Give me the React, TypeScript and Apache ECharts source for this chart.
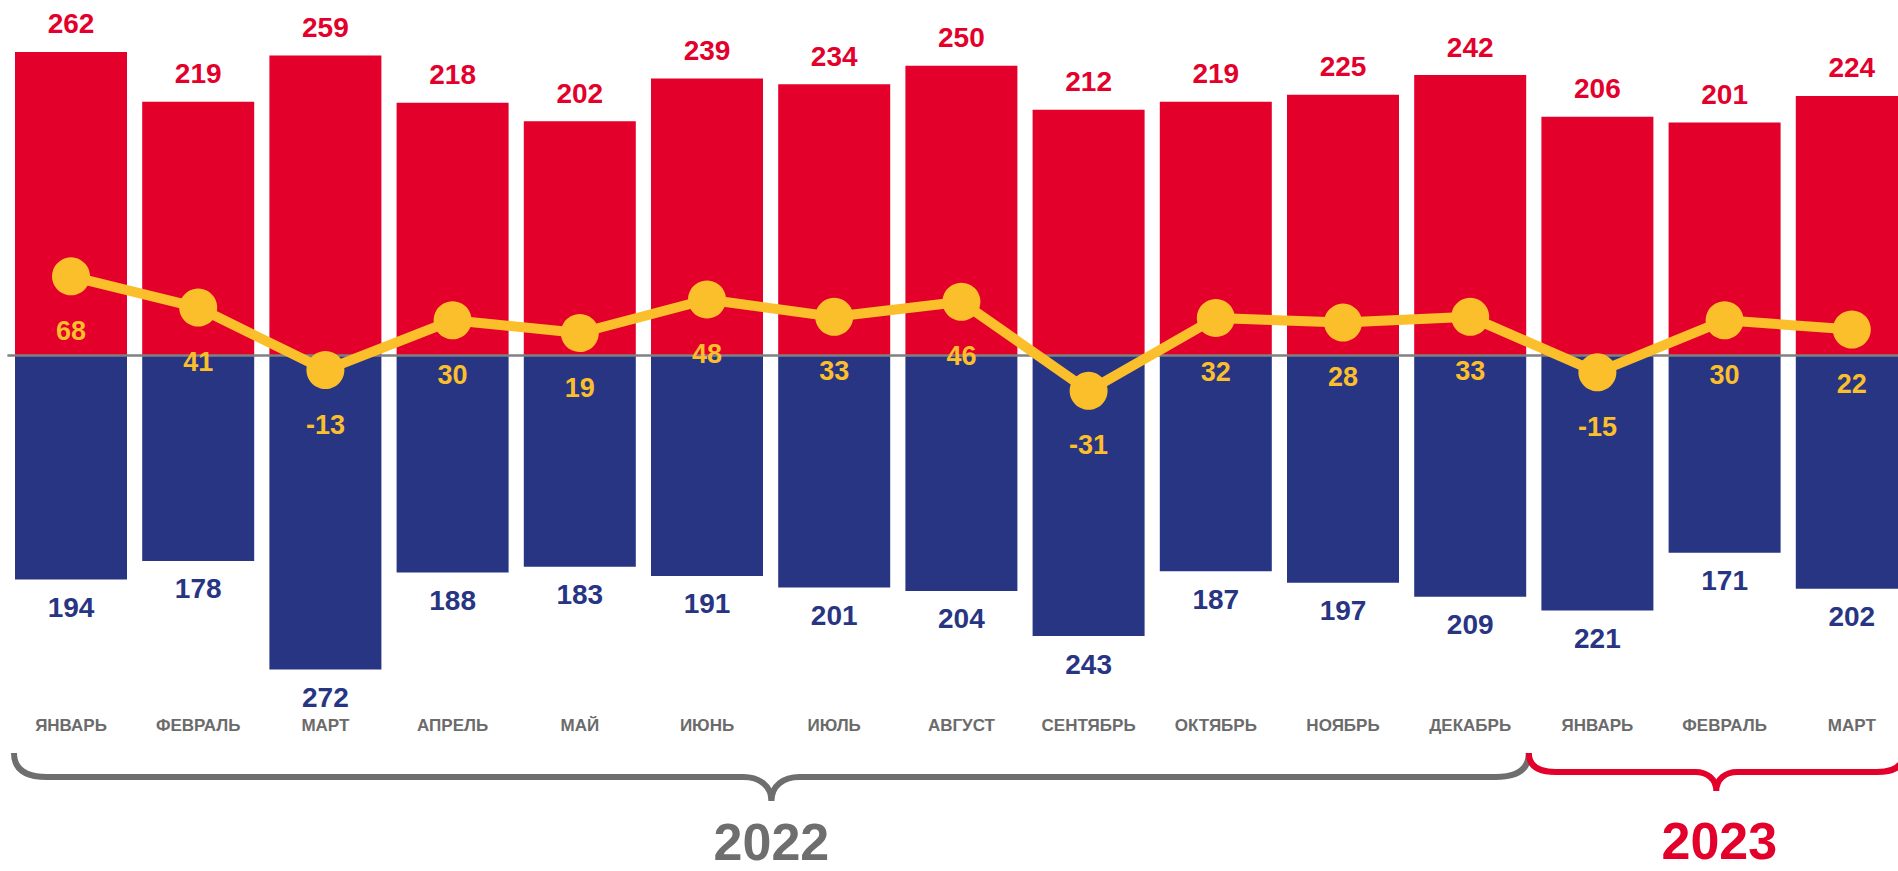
import React, { useEffect, useRef } from "react";
import * as echarts from "echarts";

const months = [
  "ЯНВАРЬ", "ФЕВРАЛЬ", "МАРТ", "АПРЕЛЬ", "МАЙ", "ИЮНЬ", "ИЮЛЬ", "АВГУСТ",
  "СЕНТЯБРЬ", "ОКТЯБРЬ", "НОЯБРЬ", "ДЕКАБРЬ", "ЯНВАРЬ", "ФЕВРАЛЬ", "МАРТ",
];
const inflow = [262, 219, 259, 218, 202, 239, 234, 250, 212, 219, 225, 242, 206, 201, 224];
const outflow = [194, 178, 272, 188, 183, 191, 201, 204, 243, 187, 197, 209, 221, 171, 202];
const balance = [68, 41, -13, 30, 19, 48, 33, 46, -31, 32, 28, 33, -15, 30, 22];
const years = ["2022", "2023"];
const yearStart = [0, 12];
const yearEnd = [11, 14];

const RED = "#E3002B";
const BLUE = "#283583";
const YELLOW = "#FCBF2C";
const GRAY = "#6B6B6B";
const FONT = "'Liberation Sans', Arial, sans-serif";

const W = 1898;
const H = 871;
const GRID_LEFT = 7.4;
const GRID_W = 1908;
const GRID_TOP = 8;
const GRID_H = 694;
const BAR_W = 112;

export default function App() {
  const ref = useRef<HTMLDivElement>(null);

  useEffect(() => {
    if (!ref.current) return;
    const chart = echarts.init(ref.current, undefined, { renderer: "svg" });
    const n = months.length;
    const catW = GRID_W / n;
    const cx = (i: number) => GRID_LEFT + catW * (i + 0.5);

    // brace geometry
    const gL = cx(yearStart[0]) - BAR_W / 2 - 1;
    const join = GRID_LEFT + catW * yearStart[1] - 5;
    const rR = cx(yearEnd[1]) + BAR_W / 2 - 4;
    const gMid = (gL + join) / 2;
    const rMid = (join + rR) / 2;

    const brace = (L: number, R: number, M: number, y0: number, y1: number, y2: number, er: number, mr: number) =>
      `M${L},${y0} C${L},${y0 + (y1 - y0) * 0.62} ${L + er * 0.3},${y1} ${L + er},${y1} ` +
      `L${M - mr},${y1} C${M - mr * 0.45},${y1} ${M},${y1 + (y2 - y1) * 0.35} ${M},${y2} ` +
      `C${M},${y1 + (y2 - y1) * 0.35} ${M + mr * 0.45},${y1} ${M + mr},${y1} ` +
      `L${R - er},${y1} C${R - er * 0.3},${y1} ${R},${y0 + (y1 - y0) * 0.62} ${R},${y0}`;

    echarts.graphic.registerShape(
      "braceGray",
      echarts.graphic.extendPath(brace(gL, join, gMid, 753, 777, 801, 33, 28), {})
    );
    echarts.graphic.registerShape(
      "braceRed",
      echarts.graphic.extendPath(brace(join, rR, rMid, 753, 772, 791, 27, 21), {})
    );

    chart.setOption({
      animation: false,
      grid: {
        left: GRID_LEFT,
        top: GRID_TOP,
        width: GRID_W,
        height: GRID_H,
        containLabel: false,
      },
      xAxis: {
        type: "category",
        data: months,
        axisLine: { show: false, onZero: false },
        axisTick: { show: false },
        axisLabel: {
          color: GRAY,
          fontFamily: FONT,
          fontWeight: "bold",
          fontSize: 17,
          margin: 15,
          interval: 0,
        },
        splitLine: { show: false },
      },
      yAxis: {
        type: "value",
        min: -300,
        max: 300,
        show: false,
        splitLine: { show: false },
      },
      series: [
        {
          type: "bar",
          name: "in",
          stack: "flow",
          data: inflow,
          barWidth: BAR_W,
          itemStyle: { color: RED },
          z: 2,
          label: {
            show: true,
            position: "top",
            distance: 14,
            color: RED,
            fontFamily: FONT,
            fontWeight: "bold",
            fontSize: 28,
          },
          markLine: {
            silent: true,
            symbol: ["none", "none"],
            label: { show: false },
            lineStyle: { color: "#808080", width: 2.5, type: "solid" },
            data: [{ yAxis: 0 }],
            z: 5,
          },
        },
        {
          type: "bar",
          name: "out",
          stack: "flow",
          data: outflow.map((v) => -v),
          barWidth: BAR_W,
          itemStyle: { color: BLUE },
          z: 2,
          label: {
            show: true,
            position: "bottom",
            distance: 14,
            color: BLUE,
            fontFamily: FONT,
            fontWeight: "bold",
            fontSize: 28,
            formatter: (p: any) => String(Math.abs(p.value)),
          },
        },
        {
          type: "line",
          name: "balance",
          data: balance,
          z: 10,
          symbol: "circle",
          symbolSize: 38,
          lineStyle: { color: YELLOW, width: 10 },
          itemStyle: { color: YELLOW },
          label: {
            show: true,
            position: "bottom",
            distance: 22,
            color: YELLOW,
            fontFamily: FONT,
            fontWeight: "bold",
            fontSize: 27,
          },
        },
      ],
      graphic: [
        {
          type: "braceGray",
          x: 0,
          y: 0,
          scaleX: 1,
          scaleY: 1,
          style: { stroke: "#6E6E6E", fill: "none", lineWidth: 6 },
        },
        {
          type: "braceRed",
          x: 0,
          y: 0,
          scaleX: 1,
          scaleY: 1,
          style: { stroke: RED, fill: "none", lineWidth: 6 },
        },
        {
          type: "text",
          x: gMid,
          y: 842,
          style: {
            text: years[0],
            fill: "#6E6E6E",
            font: `bold 52px ${FONT}`,
            textAlign: "center",
            textVerticalAlign: "middle",
          },
        },
        {
          type: "text",
          x: rMid + 3,
          y: 841,
          style: {
            text: years[1],
            fill: RED,
            font: `bold 52px ${FONT}`,
            textAlign: "center",
            textVerticalAlign: "middle",
          },
        },
      ],
    });

    return () => chart.dispose();
  }, []);

  return (
    <div
      style={{
        position: "absolute",
        left: 0,
        top: 0,
        width: W,
        height: H,
        overflow: "hidden",
        background: "#fff",
      }}
    >
      <div ref={ref} style={{ width: GRID_LEFT + GRID_W + 10, height: H }} />
    </div>
  );
}
